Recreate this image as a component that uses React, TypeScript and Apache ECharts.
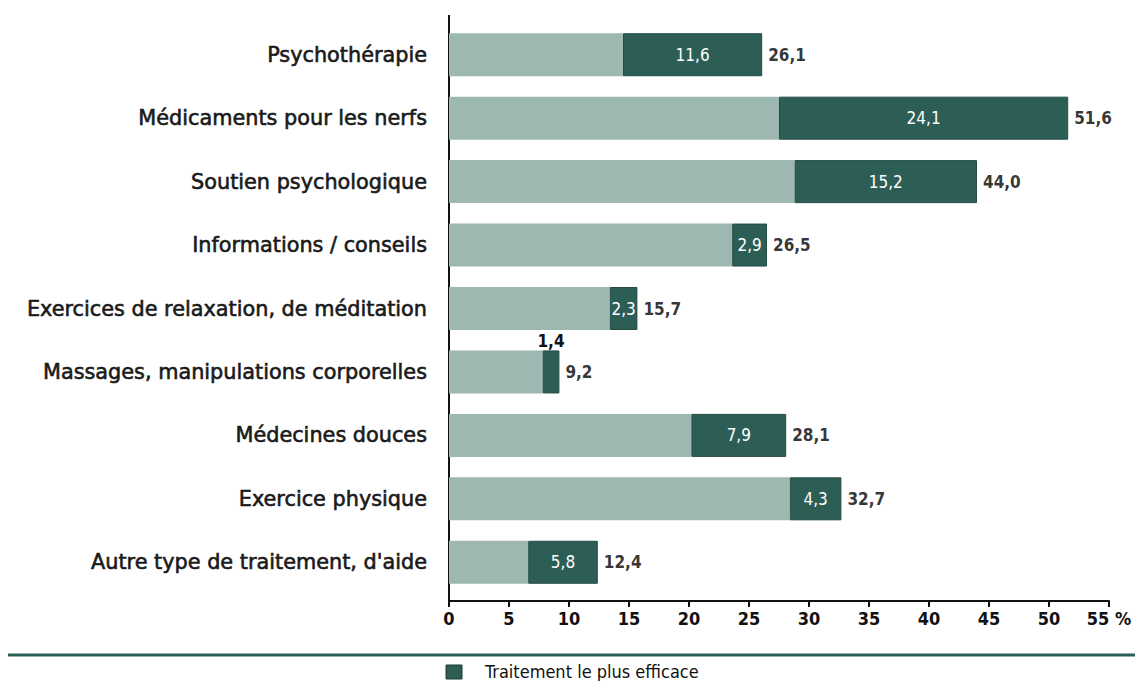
import React, { useEffect, useRef } from "react";
import * as echarts from "echarts";

const categories = [
  "Psychothérapie",
  "Médicaments pour les nerfs",
  "Soutien psychologique",
  "Informations / conseils",
  "Exercices de relaxation, de méditation",
  "Massages, manipulations corporelles",
  "Médecines douces",
  "Exercice physique",
  "Autre type de traitement, d'aide",
];
const otherValues = [14.5, 27.5, 28.8, 23.6, 13.4, 7.8, 20.2, 28.4, 6.6];
const mostEffective = [11.6, 24.1, 15.2, 2.9, 2.3, 1.4, 7.9, 4.3, 5.8];
const totals = [26.1, 51.6, 44.0, 26.5, 15.7, 9.2, 28.1, 32.7, 12.4];
const xTicks = [0, 5, 10, 15, 20, 25, 30, 35, 40, 45, 50, 55];

const LIGHT = "#9cb8b1";
const DARK = "#2c5e55";
const fmt = (v: number) => v.toFixed(1).replace(".", ",");
const NARROW = "'DejaVu Sans Condensed', sans-serif";

export default function App() {
  const ref = useRef<HTMLDivElement>(null);
  useEffect(() => {
    const chart = echarts.init(ref.current!, undefined, { renderer: "svg" });
    chart.setOption({
      animation: false,
      backgroundColor: "#ffffff",
      grid: { left: 449, right: 26, top: 23, height: 571 },
      xAxis: {
        type: "value",
        min: 0,
        max: 55,
        interval: 5,
        offset: 7,
        axisLine: { show: true, lineStyle: { color: "#111", width: 2 } },
        axisTick: { show: true, length: 6, lineStyle: { color: "#111", width: 2 } },
        splitLine: { show: false },
        axisLabel: {
          color: "#111",
          fontFamily: NARROW,
          fontWeight: "bold",
          fontSize: 18,
          margin: 8,
          formatter: (v: number) => (xTicks.includes(v) ? (v === 55 ? "55 %" : String(v)) : ""),
        },
      },
      yAxis: {
        type: "category",
        data: categories,
        inverse: true,
        axisLine: { show: false },
        axisTick: { show: false },
        axisLabel: {
          color: "#1a1a1a",
          fontFamily: "'DejaVu Sans', sans-serif",
          fontSize: 20.8,
          margin: 22,
          textBorderColor: "#1a1a1a",
          textBorderWidth: 0.6,
        },
      },
      series: [
        {
          type: "bar",
          stack: "s",
          barWidth: 43,
          data: otherValues,
          itemStyle: { color: LIGHT },
          silent: true,
        },
        {
          type: "bar",
          stack: "s",
          barWidth: 43,
          data: mostEffective.map((v, i) =>
            i === 5
              ? {
                  value: v,
                  label: { position: "top", color: "#111", distance: 1, fontWeight: "bold" },
                }
              : v
          ),
          itemStyle: { color: DARK, borderColor: "#234c45", borderWidth: 1 },
          label: {
            show: true,
            position: "inside",
            color: "#ffffff",
            fontFamily: NARROW,
            fontSize: 17,
            formatter: (p: any) => fmt(p.value),
          },
        },
        {
          type: "scatter",
          data: totals.map((t, i) => [t, categories[i]]),
          symbolSize: 0,
          label: {
            show: true,
            position: "right",
            distance: 6,
            color: "#000",
            fontFamily: NARROW,
            fontWeight: "bold",
            fontSize: 17,
            formatter: (p: any) => fmt(p.value[0]),
          },
        },
      ],
      graphic: [
        {
          type: "line",
          shape: { x1: 449, y1: 15, x2: 449, y2: 601 },
          style: { stroke: "#111", lineWidth: 2 },
        },
        {
          type: "line",
          shape: { x1: 8, y1: 655, x2: 1135, y2: 655 },
          style: { stroke: "#2c5e55", lineWidth: 3 },
        },
        {
          type: "rect",
          shape: { x: 446, y: 665, width: 16, height: 14 },
          style: { fill: DARK, stroke: "#1b3b35", lineWidth: 1 },
        },
        {
          type: "text",
          x: 485,
          y: 671,
          style: {
            text: "Traitement le plus efficace",
            fill: "#111",
            font: "18px " + NARROW,
            textVerticalAlign: "middle",
          },
        },
      ],
    });
    return () => chart.dispose();
  }, []);
  return (
    <div
      ref={ref}
      style={{ position: "fixed", left: 0, top: 0, width: 1135, height: 681 }}
    />
  );
}
